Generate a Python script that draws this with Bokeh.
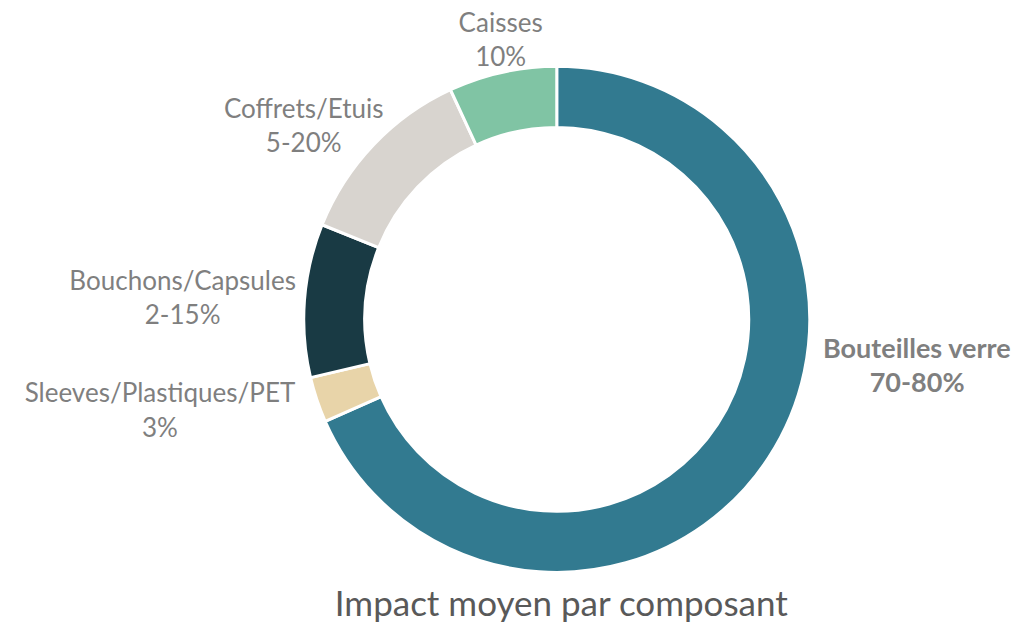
import math
from bokeh.plotting import figure
from bokeh.models import Range1d, ColumnDataSource
from bokeh.core.properties import value
from bokeh.embed import file_html
from bokeh.resources import INLINE

# ---- data ----
categories = ["Bouteilles verre", "Sleeves/Plastiques/PET", "Bouchons/Capsules", "Coffrets/Etuis", "Caisses"]
shares = [68.4, 2.9, 9.8, 12.0, 6.9]          # angular share of the ring (%)
range_labels = ["70-80%", "3%", "2-15%", "5-20%", "10%"]
colors = ["#327A90", "#E8D4A9", "#193A44", "#D8D4CF", "#80C4A4"]
title_text = "Impact moyen par composant"

# ---- layout (reference-pixel coordinates, y measured downward) ----
REF_W, REF_H = 1034, 643
W, H = 1018, 627
CX, CY = 565, 327
R_OUT, R_IN = 257, 195
label_pos = [(931, 356), (162, 402), (185, 287), (308, 110), (508, 22)]
LINE_GAP = 35

def Y(sy):
    return REF_H - sy

p = figure(width=W, height=H, output_backend="svg", toolbar_location=None,
           x_range=Range1d(0, REF_W), y_range=Range1d(0, REF_H),
           min_border=0)
p.axis.visible = False
p.grid.visible = False
p.outline_line_color = None
p.background_fill_color = "white"
p.border_fill_color = "white"

total = sum(shares)
starts, ends = [], []
acc = 0.0
for s in shares:
    a0 = math.pi / 2 - acc / total * 2 * math.pi
    acc += s
    a1 = math.pi / 2 - acc / total * 2 * math.pi
    starts.append(a0)
    ends.append(a1)

src = ColumnDataSource(dict(x=[CX] * len(shares), y=[Y(CY)] * len(shares),
                            start=starts, end=ends, color=colors))
p.annular_wedge(x="x", y="y", inner_radius=R_IN, outer_radius=R_OUT,
                start_angle="start", end_angle="end", direction="clock",
                fill_color="color", line_color="white", line_width=3, source=src)

for i, (name, rl) in enumerate(zip(categories, range_labels)):
    lx, ly = label_pos[i]
    style = "bold" if i == 0 else "normal"
    size = "27px" if i == 0 else "26px"
    p.text(x=[lx], y=[Y(ly)], text=[name], text_align="center", text_baseline="middle",
           text_font=value("Lato"), text_font_size=size, text_font_style=style,
           text_color="#7F7F7F")
    p.text(x=[lx], y=[Y(ly + LINE_GAP)], text=[rl], text_align="center", text_baseline="middle",
           text_font=value("Lato"), text_font_size=size, text_font_style=style,
           text_color="#7F7F7F")

p.text(x=[570], y=[Y(617)], text=[title_text], text_align="center", text_baseline="middle",
       text_font=value("Lato"), text_font_size="35px", text_color="#595959")

open("out.html", "w").write(file_html(p, INLINE))
